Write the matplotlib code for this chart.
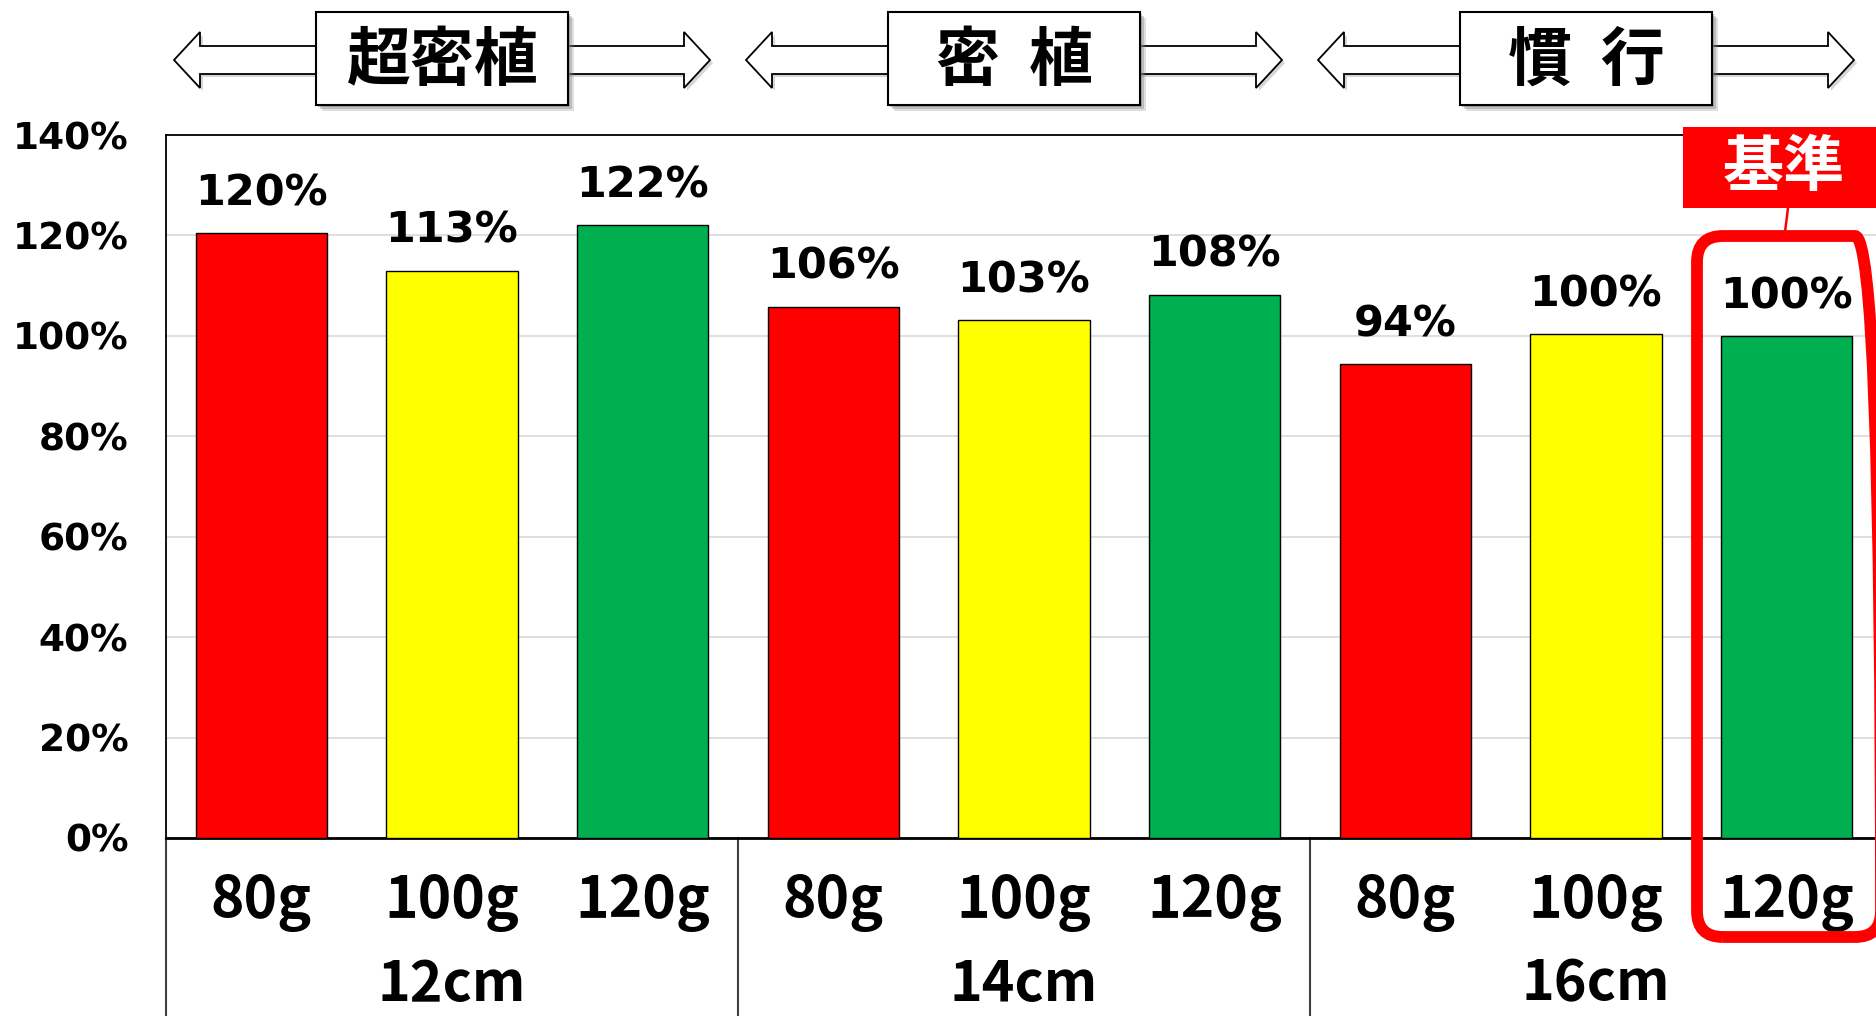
import matplotlib
matplotlib.use("Agg")
import matplotlib.pyplot as plt
from matplotlib.patches import Polygon, Rectangle, FancyBboxPatch
from matplotlib.lines import Line2D
from matplotlib.transforms import IdentityTransform, blended_transform_factory

# ---------------- data ----------------
groups = ["12cm", "14cm", "16cm"]
headers = ["超密植", "密  植", "慣  行"]
weights = ["80g", "100g", "120g"]
values = [120.4, 113.0, 122.0, 105.8, 103.2, 108.2, 94.4, 100.3, 100.0]
weight_colors = ["#FF0000", "#FFFF00", "#00B050"]
yticks = [0, 20, 40, 60, 80, 100, 120, 140]
ref_label = "基準"

plt.rcParams["font.family"] = ["DejaVu Sans", "Noto Sans CJK JP"]
CJK = ["Noto Sans CJK JP", "DejaVu Sans"]

W, H = 1876, 1016
fig = plt.figure(figsize=(W / 100, H / 100), dpi=100)
fig.patch.set_facecolor("white")

ax_left, ax_right, ax_top, ax_bot = 166, 1882, 135, 838
ax = fig.add_axes([ax_left / W, (H - ax_bot) / H, (ax_right - ax_left) / W, (ax_bot - ax_top) / H])

n = len(values)
xs = list(range(n))
cols = [weight_colors[i % 3] for i in xs]
ax.bar(xs, values, width=0.69, color=cols, edgecolor="black", linewidth=1.0, zorder=3)
ax.set_xlim(-0.5, n - 0.5)
ax.set_ylim(0, 140)

ax.set_yticks(yticks)
ax.set_yticklabels([f"{t}%" for t in yticks], fontsize=27, fontweight="bold", family="DejaVu Sans")
ax.tick_params(axis="y", length=0, pad=27)
ax.set_xticks([])
ax.yaxis.grid(True, color="#d9d9d9", linewidth=1.2, zorder=0)
ax.set_axisbelow(True)
ax.spines["right"].set_visible(False)
ax.spines["left"].set_linewidth(1.3)
ax.spines["top"].set_linewidth(1.3)
ax.spines["bottom"].set_linewidth(2.0)

# value labels
for i, v in enumerate(values):
    ax.annotate(f"{v:.0f}%", (i, v), xytext=(0, 20), textcoords="offset points",
                ha="center", va="baseline", fontsize=31, fontweight="bold", family="DejaVu Sans")

# weight labels and group labels
for i in xs:
    ax.annotate(weights[i % 3], (i, 0), xytext=(0, -57.5), textcoords="offset points",
                ha="center", va="baseline", fontsize=41, fontweight="bold", family=CJK,
                annotation_clip=False)
for g, name in enumerate(groups):
    ax.annotate(name, (3 * g + 1, 0), xytext=(0, -117), textcoords="offset points",
                ha="center", va="baseline", fontsize=40, fontweight="bold", family=CJK,
                annotation_clip=False)

# group dividers below axis
bt = blended_transform_factory(ax.transData, ax.transAxes)
for b in [-0.5, 2.5, 5.5, 8.5]:
    ax.add_line(Line2D([b, b], [0, -0.4], transform=bt, color="#404040", lw=1.5, clip_on=False))

# ---------------- header arrows (pixel coords) ----------------
ID = IdentityTransform()

def P(x, yt):
    return (x, H - yt)

cy = 60
hl, hh, sh = 26, 28, 14
for g, htxt in enumerate(headers):
    gc = ax.transData.transform((3 * g + 1, 0))[0]
    cx = gc - 10
    L, R = cx - 268, cx + 268
    pts = [P(L, cy), P(L + hl, cy - hh), P(L + hl, cy - sh), P(R - hl, cy - sh), P(R - hl, cy - hh),
           P(R, cy), P(R - hl, cy + hh), P(R - hl, cy + sh), P(L + hl, cy + sh), P(L + hl, cy + hh)]
    sh_pts = [(x + 3, y - 3) for x, y in pts]
    fig.add_artist(Polygon(sh_pts, closed=True, transform=ID, fc="#bbbbbb", ec="none", alpha=0.6))
    fig.add_artist(Polygon(pts, closed=True, transform=ID, fc="white", ec="black", lw=1.3))
    bx0, bx1, by0, by1 = cx - 126, cx + 126, 12, 105
    for k, a in [(6, 0.25), (4, 0.35), (2, 0.45)]:
        fig.add_artist(Rectangle(P(bx0 + k, by1 + k), bx1 - bx0, by1 - by0, transform=ID,
                                 fc="#808080", ec="none", alpha=a))
    fig.add_artist(Rectangle(P(bx0, by1), bx1 - bx0, by1 - by0, transform=ID,
                             fc="white", ec="black", lw=1.5))
    fig.text(cx, H - 61, htxt, transform=ID, ha="center", va="center", fontsize=46,
             fontweight="bold", family=CJK)

# ---------------- reference marker ----------------
fig.add_artist(Rectangle(P(1683, 208), 220, 81, transform=ID, fc="#FF0000", ec="none"))
fig.text(1784, H - 168, ref_label, transform=ID, ha="center", va="center", fontsize=44,
         fontweight="bold", color="white", family=CJK)
fig.add_artist(Line2D([1788, 1785], [H - 208, H - 232], transform=ID, color="#FF0000", lw=1.8))
fig.add_artist(FancyBboxPatch((1697, H - 937), 1881 - 1697, 937 - 236,
                              boxstyle="round,pad=0,rounding_size=26", transform=ID,
                              fc="none", ec="#FF0000", lw=8.5))

fig.savefig("out.png", dpi=100, facecolor="white")
